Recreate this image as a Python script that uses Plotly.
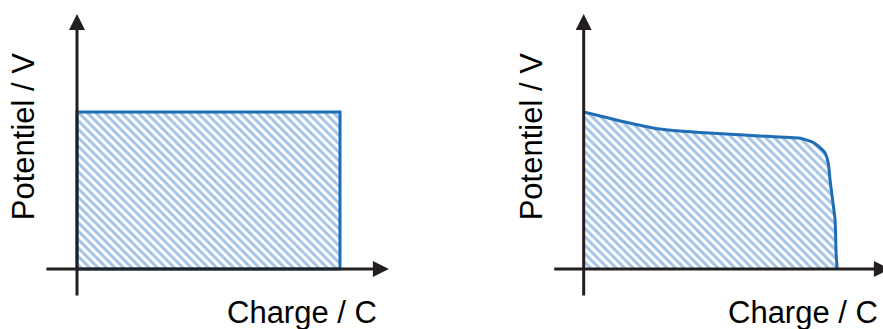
import plotly.graph_objects as go

# Ideal cell: constant potential over the whole charge
ideal_charge = [0.0, 0.0, 1.0, 1.0, 0.0]
ideal_potential = [0.0, 1.0, 1.0, 0.0, 0.0]

# Real cell: discharge curve (potential vs. delivered charge)
real_charge = [0.0, 0.095, 0.175, 0.289, 0.479, 0.745, 0.821, 0.878, 0.920,
               0.932, 0.939, 0.947, 0.958, 0.962, 0.966]
real_potential = [1.0, 0.962, 0.930, 0.892, 0.866, 0.841, 0.834, 0.803, 0.739,
                  0.675, 0.567, 0.459, 0.312, 0.102, 0.0]

x_label = "Charge / C"
y_label = "Potentiel / V"

OUTLINE = "#1f6db5"
HATCH = "#4a89c9"
INK = "#231f20"
FONT = "Liberation Sans, Arial, sans-serif"

pattern = dict(shape="\\", fgcolor=HATCH, bgcolor="white", size=6, solidity=0.5)

fig = go.Figure()

fig.add_trace(go.Scatter(
    x=ideal_charge, y=ideal_potential, xaxis="x", yaxis="y",
    mode="lines", fill="toself", fillpattern=pattern, fillcolor="white",
    line=dict(color=OUTLINE, width=3), hoverinfo="skip",
))

fig.add_trace(go.Scatter(
    x=real_charge, y=real_potential, xaxis="x2", yaxis="y",
    mode="lines", fill="tozeroy", fillpattern=pattern, fillcolor="white",
    line=dict(color=OUTLINE, width=3, shape="spline", smoothing=0.6),
    hoverinfo="skip",
))

annotations = []


def add_axes(xref, x_min, x_tip, y_min, y_tip):
    common = dict(showarrow=True, arrowhead=2, arrowsize=1.07, arrowwidth=3,
                  arrowcolor=INK, text="", standoff=0, yref="y", ayref="y")
    annotations.append(dict(x=x_tip, y=0, ax=x_min, ay=0,
                            xref=xref, axref=xref, **common))
    annotations.append(dict(x=0, y=y_tip, ax=0, ay=y_min,
                            xref=xref, axref=xref, **common))


add_axes("x", -0.122, 1.186, -0.178, 1.624)
add_axes("x2", -0.118, 1.167, -0.178, 1.624)

label_font = dict(family=FONT, size=31, color="black")
for xref, xr in (("x", 1.15), ("x2", 1.128)):
    annotations.append(dict(text=x_label, x=xr, y=-0.275, xref=xref, yref="y",
                            xanchor="right", yanchor="middle", showarrow=False,
                            font=label_font))

for xref, xc in (("x", -0.205), ("x2", -0.2)):
    annotations.append(dict(text=y_label, x=xc, y=0.84, xref=xref, yref="y",
                            textangle=-90, xanchor="center", yanchor="middle",
                            showarrow=False, font=label_font))

hidden = dict(visible=False, showgrid=False, zeroline=False, fixedrange=True)

fig.update_layout(
    width=883, height=329,
    margin=dict(l=0, r=0, t=0, b=0),
    paper_bgcolor="white", plot_bgcolor="white",
    showlegend=False,
    xaxis=dict(domain=[0, 0.5], range=[-0.29278, 1.38593], **hidden),
    xaxis2=dict(domain=[0.5, 1], range=[-0.54183, 1.14068], anchor="y", **hidden),
    yaxis=dict(domain=[0, 1], range=[-0.38217, 1.71338], **hidden),
    annotations=annotations,
)

fig.write_html("out.html")
